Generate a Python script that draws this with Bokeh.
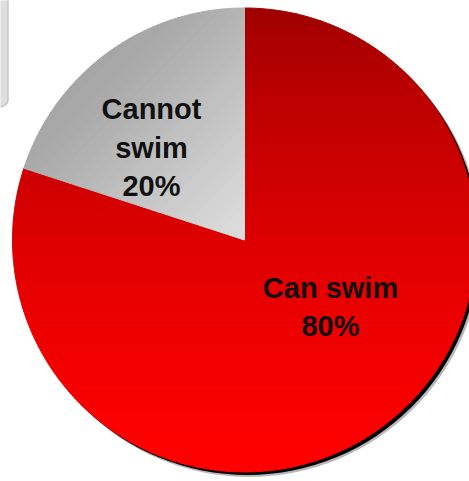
import numpy as np
from bokeh.plotting import figure
from bokeh.models import Range1d
from bokeh.core.properties import value
from bokeh.embed import file_html
from bokeh.resources import INLINE

# ---- data ----
categories = ["Can swim", "Cannot swim"]
values = [80, 20]
label_lines = [["Can swim", "80%"], ["Cannot", "swim", "20%"]]

# ---- layout (picture pixel coordinates, y measured downward) ----
W, H = 469, 481
WIN_H = 481
CX, CY_WIN, R = 244.0, 239.5, 232.0
CY = WIN_H - CY_WIN

def wy(y_win):
    return WIN_H - y_win

label_anchor = [(330, [287, 325]), (151, [108, 147, 185])]

# gradient stops (picture coords)
red_stops_y = [7, 83, 167, 240, 330, 400, 460, 480]
red_stops_v = [160, 184, 204, 222, 238, 248, 255, 255]
gray_stops_t = [140, 200, 300, 400, 480]
gray_stops_v = [164, 170, 190, 208, 222]

p = figure(width=W, height=H, x_range=Range1d(0, W), y_range=Range1d(0, H),
           output_backend="svg", toolbar_location=None, min_border=0)
p.axis.visible = False
p.grid.visible = False
p.outline_line_color = None
p.background_fill_color = "white"
p.border_fill_color = "white"

# decorative panel edge at top-left
rr = 7.0
bx0, bx1, by_top, by_bot = -20.0, 7.5, -5.0, 106.0
pts = [(bx0, wy(by_top)), (bx1, wy(by_top))]
for a in np.linspace(0, -np.pi / 2, 12):
    pts.append((bx1 - rr + rr * np.cos(a), wy(by_bot - rr) + rr * np.sin(a)))
pts.append((bx0, wy(by_bot)))
p.patch(x=[q[0] for q in pts], y=[q[1] for q in pts], fill_color="#dedede",
        line_color="#c6c6c6", line_width=1.5)

# shadow
p.circle(x=[CX + 4.5], y=[CY - 4.5], radius=R + 0.5, fill_color="#9a9a9a", fill_alpha=0.7, line_color=None)
p.circle(x=[CX + 3.0], y=[CY - 3.0], radius=R, fill_color="black", line_color=None)

def clip_half(poly, d, c, ge):
    out = []
    n = len(poly)
    for i in range(n):
        a = poly[i]
        b = poly[(i + 1) % n]
        fa = d[0] * a[0] + d[1] * a[1] - c
        fb = d[0] * b[0] + d[1] * b[1] - c
        if not ge:
            fa, fb = -fa, -fb
        ina, inb = fa >= 0, fb >= 0
        if ina:
            out.append(a)
        if ina != inb:
            t = fa / (fa - fb)
            out.append((a[0] + t * (b[0] - a[0]), a[1] + t * (b[1] - a[1])))
    return out

def wedge_poly(a0, a1, n=300):
    angs = np.linspace(a0, a1, n)
    pts = [(CX, CY)] + [(CX + R * np.cos(a), CY + R * np.sin(a)) for a in angs]
    return pts

total = float(sum(values))
start = np.pi / 2
angles = []
for v in values:
    sweep = 2 * np.pi * v / total
    angles.append((start - sweep, start))
    start -= sweep

def hexg(v, kind):
    v = int(round(max(0, min(255, v))))
    if kind == "red":
        return "#%02x0000" % v
    return "#%02x%02x%02x" % (v, v, v)

xs, ys, cols = [], [], []
# red slice: vertical gradient
a0, a1 = angles[0]
poly = wedge_poly(a0, a1, 400)
nb = 70
edges = np.linspace(wy(480), wy(0), nb + 1)
for i in range(nb):
    sub = clip_half(poly, (0, 1), edges[i], True)
    if len(sub) < 3:
        continue
    sub = clip_half(sub, (0, 1), edges[i + 1], False)
    if len(sub) < 3:
        continue
    ymid_win = WIN_H - 0.5 * (edges[i] + edges[i + 1])
    v = np.interp(ymid_win, red_stops_y, red_stops_v)
    xs.append([q[0] for q in sub]); ys.append([q[1] for q in sub]); cols.append(hexg(v, "red"))

# gray slice: diagonal gradient along t = x + y_win
a0, a1 = angles[1]
poly = wedge_poly(a0, a1, 120)
nb = 40
tedges = np.linspace(100, 500, nb + 1)
d = (1 / np.sqrt(2), -1 / np.sqrt(2))
for i in range(nb):
    c0 = (tedges[i] - WIN_H) / np.sqrt(2)
    c1 = (tedges[i + 1] - WIN_H) / np.sqrt(2)
    sub = clip_half(poly, d, c0, True)
    if len(sub) < 3:
        continue
    sub = clip_half(sub, d, c1, False)
    if len(sub) < 3:
        continue
    tm = 0.5 * (tedges[i] + tedges[i + 1])
    v = np.interp(tm, gray_stops_t, gray_stops_v)
    xs.append([q[0] for q in sub]); ys.append([q[1] for q in sub]); cols.append(hexg(v, "gray"))

p.patches(xs=xs, ys=ys, fill_color=cols, line_color=cols, line_width=1)

# labels
tx, ty, tt = [], [], []
for (ax, bys), lines in zip(label_anchor, label_lines):
    for by, line in zip(bys, lines):
        tx.append(ax); ty.append(wy(by)); tt.append(line)
p.text(x=tx, y=ty, text=tt, text_font=value("Liberation Sans"), text_font_style="bold",
       text_font_size="29px", text_align="center", text_baseline="alphabetic", text_color="#111111")

open("out.html", "w").write(file_html(p, INLINE))
